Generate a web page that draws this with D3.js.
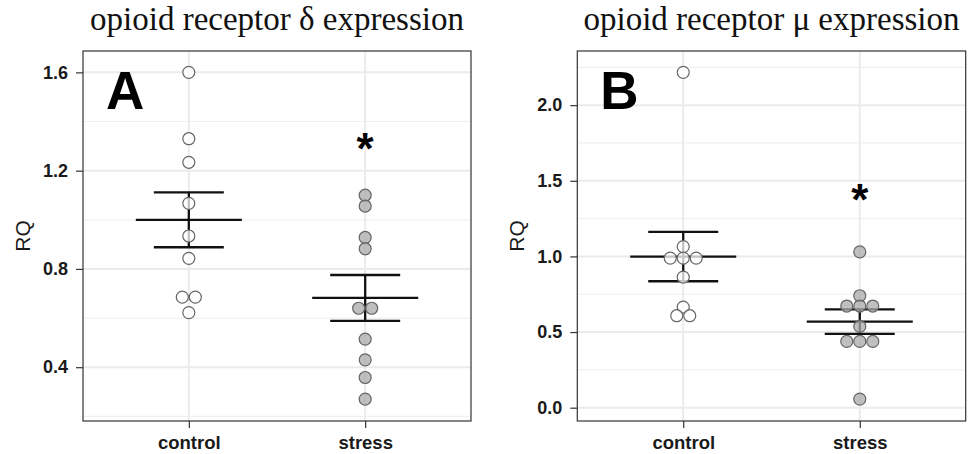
<!DOCTYPE html>
<html>
<head>
<meta charset="utf-8">
<script src="https://cdn.jsdelivr.net/npm/d3@7"></script>
<style>
  html, body { margin: 0; padding: 0; background: #fff; }
  svg { display: block; }
</style>
</head>
<body>
<svg id="chart" width="973" height="454"></svg>
<script>
// Groups on the x axis
const groups = ["control", "stress"];

// Panel A: opioid receptor delta, relative quantity per animal
const deltaControl = [1.60, 1.33, 1.234, 1.067, 0.934, 0.843, 0.685, 0.685, 0.622];
const deltaStress = [1.10, 1.056, 0.928, 0.882, 0.640, 0.640, 0.514, 0.430, 0.358, 0.270];

// Panel B: opioid receptor mu, relative quantity per animal
const muControl = [2.217, 1.065, 0.989, 0.989, 0.989, 0.863, 0.665, 0.608, 0.608];
const muStress = [1.030, 0.740, 0.672, 0.672, 0.672, 0.537, 0.438, 0.438, 0.438, 0.057];

// Axis ticks
const deltaTicks = [0.4, 0.8, 1.2, 1.6];
const deltaMinorTicks = [0.2, 0.6, 1.0, 1.4];
const muTicks = [0.0, 0.5, 1.0, 1.5, 2.0];
const muMinorTicks = [0.25, 0.75, 1.25, 1.75, 2.25];

// Y extents of each panel
const deltaDomain = [0.181, 1.687];
const muDomain = [-0.088, 2.358];

// Height of the significance star over the stress group
const deltaStarAt = 1.325;
const muStarAt = 1.43;

const panels = [
  { title: "opioid receptor δ expression", letter: "A", left: 83, right: 471,
    series: [deltaControl, deltaStress], ticks: deltaTicks, minor: deltaMinorTicks,
    domain: deltaDomain, star: deltaStarAt },
  { title: "opioid receptor μ expression", letter: "B", left: 577.3, right: 965.7,
    series: [muControl, muStress], ticks: muTicks, minor: muMinorTicks,
    domain: muDomain, star: muStarAt }
];

const plotTop = 51, plotBottom = 421;
const svg = d3.select("#chart");
const fmt = d3.format(".1f");
const fills = ["#ffffff", "#aaaaaa"];
const gridColor = "#ebebeb";

panels.forEach(p => {
  const g = svg.append("g");
  const y = d3.scaleLinear().domain(p.domain).range([plotBottom, plotTop]);
  const x = d3.scalePoint().domain(groups).range([p.left, p.right]).padding(0.6);

  // minor grid
  g.append("g").selectAll("line").data(p.minor).join("line")
    .attr("x1", p.left).attr("x2", p.right)
    .attr("y1", d => y(d)).attr("y2", d => y(d))
    .attr("stroke", "#f0f0f0").attr("stroke-width", 1.2);
  // major grid
  g.append("g").selectAll("line").data(p.ticks).join("line")
    .attr("x1", p.left).attr("x2", p.right)
    .attr("y1", d => y(d)).attr("y2", d => y(d))
    .attr("stroke", gridColor).attr("stroke-width", 2);
  g.append("g").selectAll("line").data(groups).join("line")
    .attr("x1", d => x(d)).attr("x2", d => x(d))
    .attr("y1", plotTop).attr("y2", plotBottom)
    .attr("stroke", gridColor).attr("stroke-width", 2);

  // mean and standard error bars
  p.series.forEach((vals, i) => {
    const m = d3.mean(vals);
    const se = d3.deviation(vals) / Math.sqrt(vals.length);
    const cx = x(groups[i]);
    const eb = g.append("g").attr("stroke", "#111").attr("stroke-width", 2.3);
    eb.append("line").attr("x1", cx).attr("x2", cx).attr("y1", y(m + se)).attr("y2", y(m - se));
    eb.append("line").attr("x1", cx - 35).attr("x2", cx + 35).attr("y1", y(m + se)).attr("y2", y(m + se));
    eb.append("line").attr("x1", cx - 35).attr("x2", cx + 35).attr("y1", y(m - se)).attr("y2", y(m - se));
    eb.append("line").attr("x1", cx - 53).attr("x2", cx + 53).attr("y1", y(m)).attr("y2", y(m));
  });

  // individual animals; equal values sit side by side
  p.series.forEach((vals, i) => {
    const cx = x(groups[i]);
    const counts = d3.rollup(vals, v => v.length, v => v);
    const seen = new Map();
    const pts = vals.map(v => {
      const n = counts.get(v);
      const k = seen.get(v) || 0;
      seen.set(v, k + 1);
      return { v, dx: (k - (n - 1) / 2) * 13 };
    });
    g.append("g").selectAll("circle").data(pts).join("circle")
      .attr("cx", d => cx + d.dx).attr("cy", d => y(d.v)).attr("r", 6)
      .attr("fill", fills[i]).attr("fill-opacity", 0.75)
      .attr("stroke", "#666").attr("stroke-width", 1.2);
  });

  // y axis
  const ya = g.append("g").attr("transform", `translate(${p.left},0)`)
    .call(d3.axisLeft(y).tickValues(p.ticks).tickFormat(fmt).tickSize(7).tickPadding(8));
  ya.select(".domain").remove();
  ya.selectAll(".tick line").attr("stroke", "#333").attr("stroke-width", 1.2);
  ya.selectAll(".tick text").attr("font-family", "Liberation Sans, Arial, sans-serif")
    .attr("font-size", 18).attr("font-weight", "bold").attr("fill", "#1a1a1a");

  // x axis
  const xa = g.append("g").attr("transform", `translate(0,${plotBottom})`)
    .call(d3.axisBottom(x).tickSize(7));
  xa.select(".domain").remove();
  xa.selectAll(".tick line").attr("stroke", "#333").attr("stroke-width", 1.2);
  xa.selectAll(".tick text").attr("y", 28).attr("dy", 0)
    .attr("font-family", "Liberation Sans, Arial, sans-serif")
    .attr("font-size", 18.5).attr("font-weight", "bold").attr("fill", "#1a1a1a");

  // panel border
  g.append("rect").attr("x", p.left).attr("y", plotTop)
    .attr("width", p.right - p.left).attr("height", plotBottom - plotTop)
    .attr("fill", "none").attr("stroke", "#333").attr("stroke-width", 1.2);

  // y title
  g.append("text")
    .attr("transform", `translate(${p.left - 53.5},${(plotTop + plotBottom) / 2}) rotate(-90)`)
    .attr("text-anchor", "middle")
    .attr("font-family", "Liberation Sans, Arial, sans-serif")
    .attr("font-size", 21).attr("fill", "#1a1a1a")
    .text("RQ");

  // panel letter
  g.append("text").attr("x", p.left + 23).attr("y", 109)
    .attr("font-family", "Liberation Sans, Arial, sans-serif")
    .attr("font-size", 53).attr("font-weight", "bold").attr("fill", "#000")
    .text(p.letter);

  // significance star
  g.append("text").attr("x", x("stress")).attr("y", y(p.star) + 24)
    .attr("text-anchor", "middle")
    .attr("font-family", "Liberation Sans, Arial, sans-serif")
    .attr("font-size", 44).attr("font-weight", "bold").attr("fill", "#000")
    .text("*");

  // title
  svg.append("text").attr("x", (p.left + p.right) / 2).attr("y", 30)
    .attr("text-anchor", "middle")
    .attr("font-family", "Liberation Serif, Times New Roman, serif")
    .attr("font-size", 33).attr("fill", "#111")
    .text(p.title);
});
</script>
</body>
</html>
